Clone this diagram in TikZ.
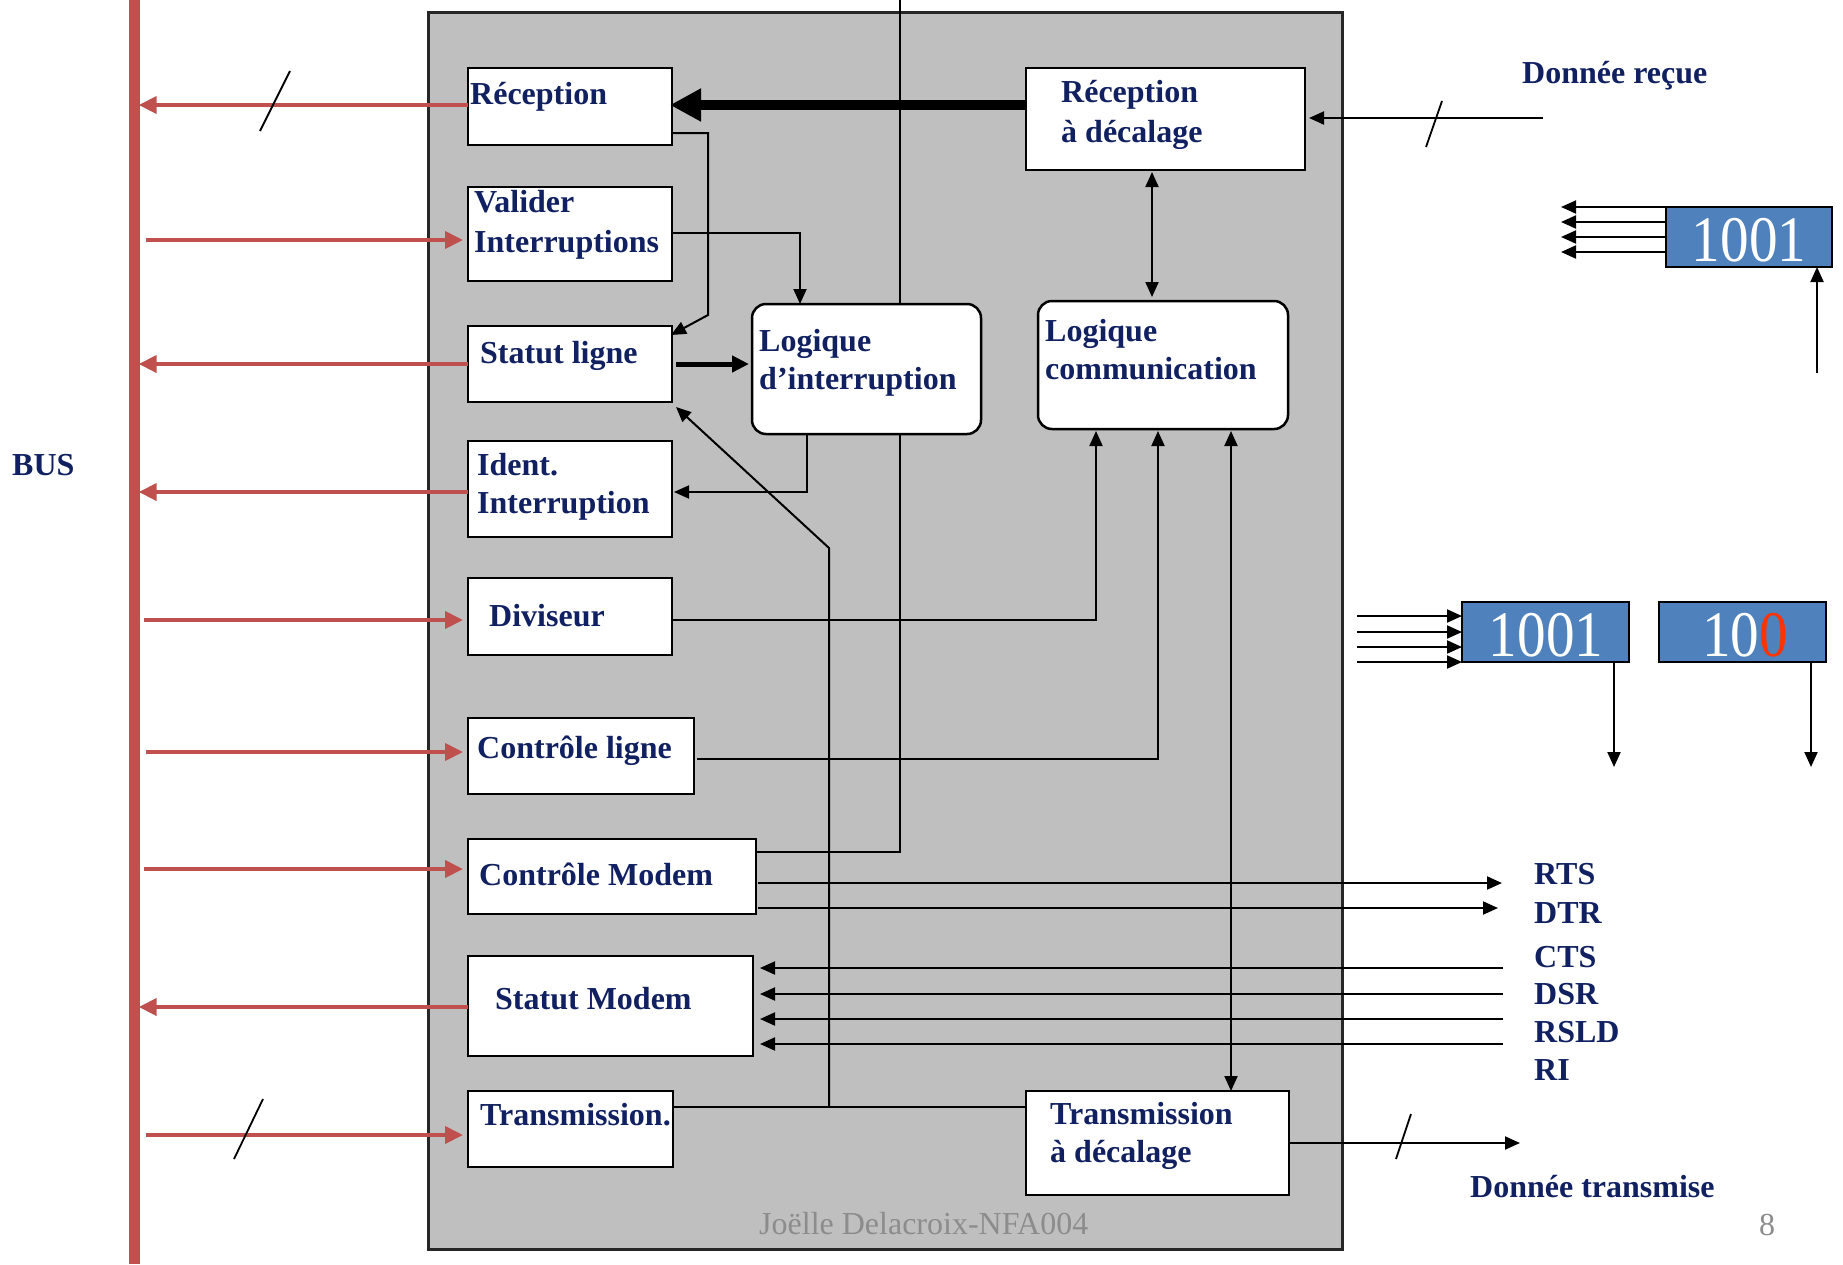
\documentclass[tikz,border=0pt]{standalone}
\usepackage{fontspec}
\setmainfont{Liberation Serif}
\newfontfamily\regnum[FakeStretch=0.88]{Liberation Serif}
\usetikzlibrary{arrows.meta,calc}
\definecolor{navy}{RGB}{16,32,96}
\definecolor{busred}{RGB}{192,80,77}
\definecolor{panel}{RGB}{191,191,191}
\definecolor{regblue}{RGB}{79,129,189}
\definecolor{footgray}{RGB}{140,140,140}
\definecolor{bitred}{RGB}{255,51,0}
\begin{document}
\begin{tikzpicture}[x=1pt,y=-1pt,
  bx/.style={draw=black,line width=2.5pt,fill=white,inner sep=0pt,outer sep=0pt,anchor=north west},
  rbx/.style={bx,rounded corners=14pt},
  regbox/.style={draw=black,line width=2pt,fill=regblue,inner sep=0pt,outer sep=0pt,anchor=north west,minimum width=166,minimum height=60},
  regtxt/.style={anchor=base,inner sep=0pt,text=white,font=\regnum\fontsize{65}{70}\selectfont},
  lbl/.style={anchor=base west,inner sep=0pt,text=navy,font=\fontsize{32}{38}\selectfont\bfseries},
  foot/.style={anchor=base west,inner sep=0pt,text=footgray,font=\fontsize{32}{36}\selectfont},
  redarr/.style={draw=busred,line width=4pt,-{Triangle[length=18pt,width=17pt]}},
  bigarr/.style={line width=10pt,-{Triangle[length=31pt,width=31pt]}},
  midarr/.style={line width=5pt,-{Triangle[length=17pt,width=16pt]}},
  wire/.style={line width=2pt},
  warr/.style={wire,-{Triangle[length=15pt,width=13pt]}},
  wboth/.style={wire,{Triangle[length=15pt,width=13pt]}-{Triangle[length=15pt,width=13pt]}},
  slash/.style={line width=1.8pt}
]
\useasboundingbox (0,0) rectangle (1843,1264);

% panel and bus
\node[draw=black!85,line width=3pt,fill=panel,anchor=north west,inner sep=0pt,minimum width=914,minimum height=1237] (uart) at (427,11) {};
\node[fill=busred,inner sep=0pt,anchor=north,minimum width=11,minimum height=1264] (bus) at (134,0) {};

% free end coordinates
\coordinate (topin) at (900,0);
\coordinate (din) at (1543,118);
\coordinate (dout) at (1520,1143);
\coordinate (rtsend) at (1502,883);
\coordinate (dtrend) at (1498,908);
\coordinate (ctsin) at (1503,968);
\coordinate (dsrin) at (1503,994);
\coordinate (rsldin) at (1503,1019);
\coordinate (riin) at (1503,1044);

% boxes
\node[bx,minimum width=204,minimum height=77] (rec) at (468,68) {};
\node[bx,minimum width=204,minimum height=94] (val) at (468,187) {};
\node[bx,minimum width=204,minimum height=76] (sl) at (468,326) {};
\node[bx,minimum width=204,minimum height=96] (idi) at (468,441) {};
\node[bx,minimum width=204,minimum height=77] (div) at (468,578) {};
\node[bx,minimum width=226,minimum height=76] (cl) at (468,718) {};
\node[bx,minimum width=288,minimum height=75] (cm) at (468,839) {};
\node[bx,minimum width=285,minimum height=100] (sm) at (468,956) {};
\node[bx,minimum width=205,minimum height=76] (tr) at (468,1091) {};
\node[rbx,minimum width=229,minimum height=130] (li) at (752,304) {};
\node[bx,minimum width=279,minimum height=102] (rd) at (1026,68) {};
\node[rbx,minimum width=250,minimum height=128] (lc) at (1038,301) {};
\node[bx,minimum width=263,minimum height=104] (td) at (1026,1091) {};

% bus arrows
\draw[redarr,shorten >=-1pt] (rec.west |- 0,105) -- (bus.east |- 0,105);
\draw[redarr,shorten <=6pt,shorten >=5pt] (bus.east |- 0,240) -- (val.west |- 0,240);
\draw[redarr,shorten >=-1pt] (sl.west |- 0,364) -- (bus.east |- 0,364);
\draw[redarr,shorten >=-1pt] (idi.west |- 0,492) -- (bus.east |- 0,492);
\draw[redarr,shorten <=4pt,shorten >=5pt] (bus.east |- 0,620) -- (div.west |- 0,620);
\draw[redarr,shorten <=6pt,shorten >=5pt] (bus.east |- 0,752) -- (cl.west |- 0,752);
\draw[redarr,shorten <=4pt,shorten >=5pt] (bus.east |- 0,869) -- (cm.west |- 0,869);
\draw[redarr,shorten >=-1pt] (sm.west |- 0,1007) -- (bus.east |- 0,1007);
\draw[redarr,shorten <=6pt,shorten >=5pt] (bus.east |- 0,1135) -- (tr.west |- 0,1135);
\draw[slash] (260,131) -- (290,71);
\draw[slash] (234,1159) -- (263,1099);

% internal connections
\draw[bigarr,shorten >=-2pt] (rd.west |- 0,105) -- (rec.east |- 0,105);
\draw[warr] (rec.east |- 0,133) -- (708,133) -- (708,315) -- ($(sl.north east)+(-1,9)$);
\draw[warr] (val.east |- 0,233) -- (800,233) -- (li.north -| 800,0);
\draw[wire] (li.north -| topin) -- (topin);
\draw[wire] (li.south -| 900,0) -- (900,852) -- (cm.east |- 0,852);
\draw[warr] (li.south -| 807,0) -- (807,492) -- ($(idi.east |- 0,492)+(2,0)$);
\draw[midarr,shorten <=4pt,shorten >=3pt] (sl.east |- 0,364) -- (li.west |- 0,364);
\draw[wire] (tr.east |- 0,1107) -- (td.west |- 0,1107);
\draw[warr] (829,1107) -- (829,548) -- ($(sl.south east)+(4,5)$);
\draw[warr] (div.east |- 0,620) -- (1096,620) -- ($(lc.south -| 1096,0)+(0,2)$);
\draw[warr] ($(cl.east |- 0,759)+(3,0)$) -- (1158,759) -- ($(lc.south -| 1158,0)+(0,2)$);
\draw[wboth] ($(lc.south -| 1231,0)+(0,2)$) -- (td.north -| 1231,0);
\draw[wboth] ($(rd.south -| 1152,0)+(0,2)$) -- ($(lc.north -| 1152,0)+(0,-4)$);

% external data lines
\draw[warr] (din) -- ($(rd.east |- din)+(4,0)$);
\draw[slash] (1426,147) -- (1442,101);
\draw[warr] (td.east |- dout) -- (dout);
\draw[slash] (1396,1159) -- (1411,1114);
\draw[warr] ($(cm.east |- rtsend)+(2,0)$) -- (rtsend);
\draw[warr] ($(cm.east |- dtrend)+(2,0)$) -- (dtrend);
\draw[warr,shorten >=7pt] (ctsin) -- (sm.east |- ctsin);
\draw[warr,shorten >=7pt] (dsrin) -- (sm.east |- dsrin);
\draw[warr,shorten >=7pt] (rsldin) -- (sm.east |- rsldin);
\draw[warr,shorten >=7pt] (riin) -- (sm.east |- riin);

% registers
\node[regbox] (rega) at (1666,207) {};
\node[regbox,minimum width=167] (regb) at (1462,602) {};
\node[regbox,minimum width=167] (regc) at (1659,602) {};
\node[regtxt] (rega-t) at (1749,261) {1001};
\node[regtxt] (regb-t) at (1546,656) {1001};
\node[regtxt] (regc-t) at (1745,656) {10\textcolor{bitred}{0}};
\foreach \yy [count=\i] in {207,222,237,252} {
  \coordinate (ao\i) at (1561,\yy);
  \draw[warr] (rega.west |- ao\i) -- (ao\i);
}
\foreach \yy [count=\i] in {616,632,647,662} {
  \coordinate (bi\i) at (1357,\yy);
  \draw[warr] (bi\i) -- (regb.west |- bi\i);
}
\coordinate (ain) at (1817,373);
\draw[warr] (ain) -- (rega.south -| ain);
\coordinate (bout) at (1614,767);
\draw[warr] (regb.south -| bout) -- (bout);
\coordinate (cout) at (1811,767);
\draw[warr] (regc.south -| cout) -- (cout);

% labels
\node[lbl] (bus-t) at (12,475) {BUS};
\node[lbl] (rec-t) at (470,104) {Réception};
\node[lbl] (val-t1) at (474,212) {Valider};
\node[lbl] (val-t2) at (474,252) {Interruptions};
\node[lbl] (sl-t) at (480,363) {Statut ligne};
\node[lbl] (li-t1) at (759,351) {Logique};
\node[lbl] (li-t2) at (759,389) {d’interruption};
\node[lbl] (idi-t1) at (477,475) {Ident.};
\node[lbl] (idi-t2) at (477,513) {Interruption};
\node[lbl] (div-t) at (489,626) {Diviseur};
\node[lbl] (cl-t) at (477,758) {Contrôle ligne};
\node[lbl] (cm-t) at (479,885) {Contrôle Modem};
\node[lbl] (sm-t) at (495,1009) {Statut Modem};
\node[lbl] (tr-t) at (480,1125) {Transmission.};
\node[lbl] (rd-t1) at (1061,102) {Réception};
\node[lbl] (rd-t2) at (1061,142) {à décalage};
\node[lbl] (lc-t1) at (1045,341) {Logique};
\node[lbl] (lc-t2) at (1045,379) {communication};
\node[lbl] (td-t1) at (1050,1124) {Transmission};
\node[lbl] (td-t2) at (1050,1162) {à décalage};
\node[lbl] (din-t) at (1522,83) {Donnée reçue};
\node[lbl] (rts-t) at (1534,884) {RTS};
\node[lbl] (dtr-t) at (1534,923) {DTR};
\node[lbl] (cts-t) at (1534,967) {CTS};
\node[lbl] (dsr-t) at (1534,1004) {DSR};
\node[lbl] (rsld-t) at (1534,1042) {RSLD};
\node[lbl] (ri-t) at (1534,1080) {RI};
\node[lbl] (dout-t) at (1470,1197) {Donnée transmise};
\node[foot] (foot-t) at (759,1234) {Joëlle Delacroix-NFA004};
\node[foot] (page-t) at (1759,1235) {8};
\end{tikzpicture}
\end{document}
